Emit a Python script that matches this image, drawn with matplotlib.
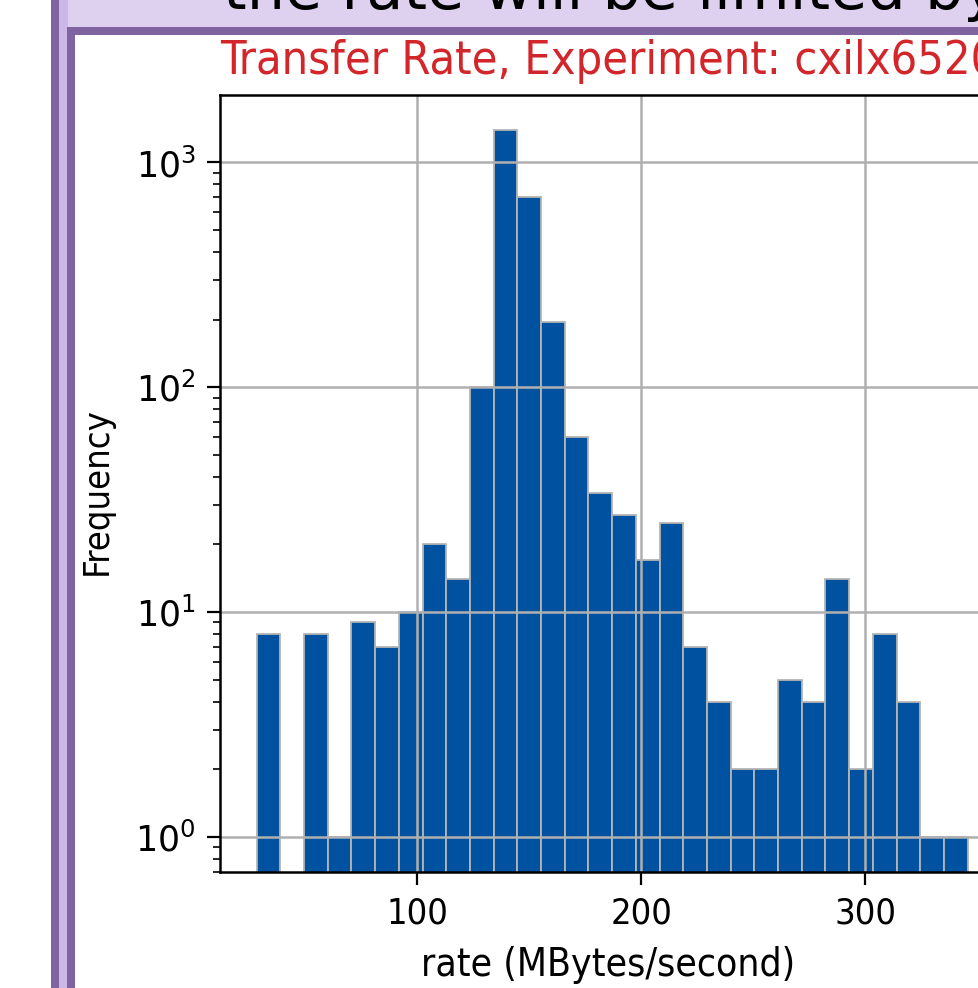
import matplotlib
matplotlib.use('Agg')
import matplotlib.pyplot as plt
import numpy as np
from matplotlib.patches import Rectangle

# bin counts (left to right), log scale
bin_start = 28.3
bin_width = 10.58
counts = [8, 0, 8, 1, 9, 7, 10, 20, 14, 100, 1400, 700, 195, 60, 34,
          27, 17, 25, 7, 4, 2, 2, 5, 4, 14, 2, 8, 4, 1, 1]

x_ticks = [100, 200, 300]
slide_text = 'the rate will be limited by the'
title = 'Transfer Rate, Experiment: cxilx6520'
x_label = 'rate (MBytes/second)'
y_label = 'Frequency'

W, H = 979, 988
fig = plt.figure(figsize=(W / 100, H / 100), dpi=100)
fig.patch.set_facecolor('white')


def px_rect(x, y, w, h, color):
    # rectangle in pixel coords measured from the top-left corner
    fig.add_artist(Rectangle((x / W, 1 - (y + h) / H), w / W, h / H,
                             transform=fig.transFigure, color=color,
                             linewidth=0, zorder=0))


# slide frame around the screenshot of the plot
px_rect(59, 0, W, 28, '#ddd1ef')
px_rect(59, 0, 9, H, '#cbb8e6')
px_rect(51, 0, 8, H, '#8064a2')
px_rect(67, 27, W, 8, '#8064a2')
px_rect(67, 27, 8, H, '#8064a2')

# bottom of the slide's sentence, cut by the top edge like in the screenshot
fig.text(223 / W, 1 - 9 / H, slide_text, fontsize=43.5, color='black',
         ha='left', va='baseline', family='DejaVu Sans')
narrow = dict(family='DejaVu Sans', stretch='condensed')

fig.text(220 / W, 1 - 74 / H, title, fontsize=33.6, color='#d3262b',
         ha='left', va='baseline', **narrow)

ax = fig.add_axes([220 / W, (H - 872) / H, 900 / W, (872 - 95) / H])
edges = bin_start + bin_width * np.arange(len(counts) + 1)
centers = edges[:-1] + bin_width / 2
ax.hist(centers, bins=edges, weights=counts, log=True,
        color='#0052a0', edgecolor='#b4b4b4', linewidth=1.3)

ax.set_xlim((220 - 193.3) / 2.24, (1120 - 193.3) / 2.24)
ax.set_ylim(0.698, 1995)
ax.set_xticks(x_ticks)
ax.grid(True, which='major', color='#b0b0b0', linewidth=1.8)

for s in ax.spines.values():
    s.set_linewidth(1.8)
ax.tick_params(which='major', length=9.5, width=1.6, labelsize=25, pad=8)
ax.tick_params(which='minor', length=5, width=1.2)
for lab in ax.get_xticklabels():
    lab.set_fontfamily('DejaVu Sans')
    lab.set_fontstretch('condensed')
    lab.set_fontsize(26)

fig.text(608 / W, 1 - 965 / H, x_label, fontsize=28, ha='center',
         va='center', **narrow)
fig.text(97 / W, 1 - 491 / H, y_label, fontsize=26, ha='center',
         va='center', rotation=90, **narrow)

fig.savefig('out.png', dpi=100)
